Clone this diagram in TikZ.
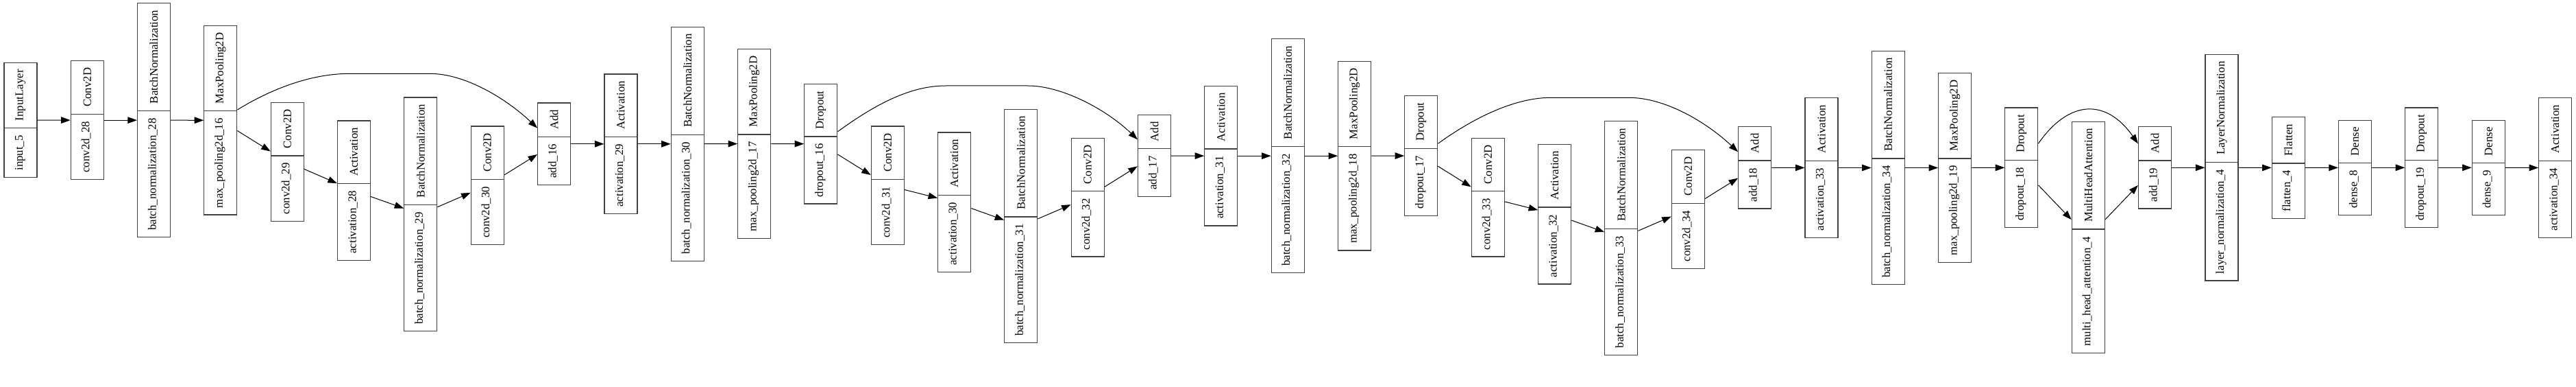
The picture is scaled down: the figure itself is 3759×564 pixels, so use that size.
\documentclass[tikz,border=0pt]{standalone}
\usepackage{fontspec}
\setmainfont{Liberation Serif}
\usetikzlibrary{shapes.multipart, arrows.meta}

\begin{document}
\begin{tikzpicture}[
  x=1pt, y=-1pt,
  font=\fontsize{16.8}{20}\selectfont,
  layer/.style={draw=black!75, line width=1.2pt, rectangle split, rectangle split horizontal,
                rectangle split parts=2, rotate=90, inner xsep=10pt, inner ysep=15pt,
                text height=12pt, text depth=6pt},
  edge/.style={-{Triangle[length=13.5pt, width=9.5pt]}, line width=1pt},
]
  \useasboundingbox (0,0) rectangle (3759,564);

  % layers: node / x / y / layer name / layer class
  \foreach \n/\x/\y/\i/\c in {
    in5/30/175/input\_5/InputLayer,
    conv28/127.3/175.2/conv2d\_28/Conv2D,
    bn28/224.5/175.2/batch\_normalization\_28/BatchNormalization,
    mp16/321.8/175.3/max\_pooling2d\_16/MaxPooling2D,
    conv29/419.3/235.8/conv2d\_29/Conv2D,
    act28/516.5/277.8/activation\_28/Activation,
    bn29/613.8/312.3/batch\_normalization\_29/BatchNormalization,
    conv30/711.2/270.3/conv2d\_30/Conv2D,
    add16/808.7/209.8/add\_16/Add,
    act29/906/209.8/activation\_29/Activation,
    bn30/1003.3/209.8/batch\_normalization\_30/BatchNormalization,
    mp17/1100.7/209.5/max\_pooling2d\_17/MaxPooling2D,
    drop16/1197.8/209.7/dropout\_16/Dropout,
    conv31/1295.3/270.3/conv2d\_31/Conv2D,
    act30/1392.7/294.8/activation\_30/Activation,
    bn31/1489.8/329.5/batch\_normalization\_31/BatchNormalization,
    conv32/1587.2/287.7/conv2d\_32/Conv2D,
    add17/1684.5/227/add\_17/Add,
    act31/1781.8/227.2/activation\_31/Activation,
    bn32/1879.2/227.2/batch\_normalization\_32/BatchNormalization,
    mp18/1976.7/227.2/max\_pooling2d\_18/MaxPooling2D,
    drop17/2073.8/227/dropout\_17/Dropout,
    conv33/2171.3/287.7/conv2d\_33/Conv2D,
    act32/2268.7/312.3/activation\_32/Activation,
    bn33/2365.8/347/batch\_normalization\_33/BatchNormalization,
    conv34/2463.3/305/conv2d\_34/Conv2D,
    add18/2560.7/244.3/add\_18/Add,
    act33/2658/244.5/activation\_33/Activation,
    bn34/2755.2/244.5/batch\_normalization\_34/BatchNormalization,
    mp19/2852.7/244.5/max\_pooling2d\_19/MaxPooling2D,
    drop18/2949.8/244.3/dropout\_18/Dropout,
    mha4/3047.3/345.7/multi\_head\_attention\_4/MultiHeadAttention,
    add19/3144.5/244.3/add\_19/Add,
    ln4/3242/244.3/layer\_normalization\_4/LayerNormalization,
    flat4/3339.2/244.5/flatten\_4/Flatten,
    dense8/3436.5/244.3/dense\_8/Dense,
    drop19/3533.8/244.3/dropout\_19/Dropout,
    dense9/3631.3/244.3/dense\_9/Dense,
    act34/3728.7/244.5/activation\_34/Activation}
    \node[layer] (\n) at (\x,\y) {\i\nodepart{two}\c};

  % main flow
  \foreach \a/\b in {in5/conv28, conv28/bn28, bn28/mp16, mp16/conv29, conv29/act28,
    act28/bn29, bn29/conv30, conv30/add16, add16/act29, act29/bn30, bn30/mp17,
    mp17/drop16, drop16/conv31, conv31/act30, act30/bn31, bn31/conv32, conv32/add17,
    add17/act31, act31/bn32, bn32/mp18, mp18/drop17, drop17/conv33, conv33/act32,
    act32/bn33, bn33/conv34, conv34/add18, add18/act33, act33/bn34, bn34/mp19,
    mp19/drop18, drop18/mha4, mha4/add19, add19/ln4, ln4/flat4, flat4/dense8,
    dense8/drop19, drop19/dense9, dense9/act34}
    \draw[edge] (\a) -- (\b);

  % skip connections
  \draw[edge] (mp16) .. controls (390,133) and (450,107.3) .. (510,107.3) -- (627,107.3)
    .. controls (680,107.3) and (740,145) .. (add16);
  \draw[edge] (drop16) .. controls (1280,150) and (1330,125) .. (1380,125) -- (1500,125)
    .. controls (1550,125) and (1615,160) .. (add17);
  \draw[edge] (drop17) .. controls (2150,172) and (2210,142.3) .. (2263,142.3) -- (2377,142.3)
    .. controls (2430,142.3) and (2490,178) .. (add18);
  \draw[edge] (drop18) .. controls (3020,144) and (3074,144) .. (add19);
\end{tikzpicture}
\end{document}
